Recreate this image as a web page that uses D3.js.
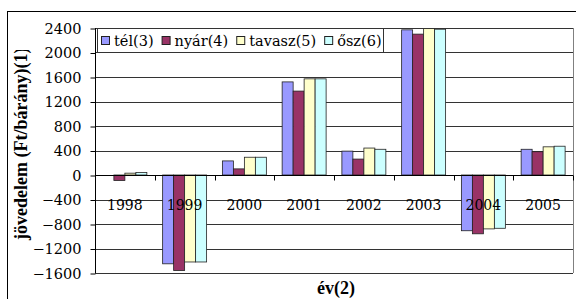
<!DOCTYPE html>
<html>
<head>
<meta charset="utf-8">
<script src="https://cdn.jsdelivr.net/npm/d3@7"></script>
<style>
  body { margin: 0; background: #fff; }
</style>
</head>
<body>
<svg id="chart" width="576" height="299"></svg>
<script>
// data
const years = ['1998', '1999', '2000', '2001', '2002', '2003', '2004', '2005'];
const seriesNames = ['tél(3)', 'nyár(4)', 'tavasz(5)', 'ősz(6)'];
const tel    = [0, -1450, 230, 1520, 390, 2370, -910, 420];
const nyar   = [-90, -1560, 100, 1370, 260, 2300, -960, 380];
const tavasz = [30, -1420, 290, 1570, 440, 2390, -880, 460];
const osz    = [40, -1420, 290, 1570, 420, 2380, -870, 470];
const yTicks = [-1600, -1200, -800, -400, 0, 400, 800, 1200, 1600, 2000, 2400];
const colors = ['#9999FF', '#993366', '#FFFFCC', '#CCFFFF'];

const allSeries = [tel, nyar, tavasz, osz];
const serif = '"DejaVu Serif", "Liberation Serif", serif';
const serifBold = '"Liberation Serif", "Times New Roman", serif';
const fs = 14.5;

const svg = d3.select('#chart');
const defs = svg.append('defs');

// outer chart border (only top and left show inside the window)
svg.append('rect')
  .attr('x', 7.5).attr('y', 11.5)
  .attr('width', 600).attr('height', 320)
  .attr('fill', 'none').attr('stroke', '#000');

const plotL = 95, plotR = 573, plotT = 28, plotB = 273;

const x = d3.scaleBand().domain(years).range([plotL, plotR]).padding(0);
const inner = d3.scaleBand().domain(seriesNames)
  .range([x.step() * 0.132, x.step() * 0.868]).padding(0);
const y = d3.scaleLinear().domain([-1600, 2400]).range([plotB, plotT]);

// gridlines
svg.append('g')
  .selectAll('line')
  .data(yTicks)
  .join('line')
  .attr('x1', plotL).attr('x2', plotR)
  .attr('y1', d => Math.round(y(d)) + 0.5)
  .attr('y2', d => Math.round(y(d)) + 0.5)
  .attr('stroke', '#333');

// plot area right edge
svg.append('line')
  .attr('x1', plotR + 0.5).attr('x2', plotR + 0.5)
  .attr('y1', plotT).attr('y2', plotB)
  .attr('stroke', '#808080');

// y axis
const yAxis = svg.append('g')
  .attr('transform', 'translate(' + (plotL + 0.5) + ',0.5)')
  .call(d3.axisLeft(y).tickValues(yTicks).tickFormat(d3.format('d')).tickSize(5).tickPadding(9));
yAxis.attr('font-family', serif).attr('font-size', fs);
yAxis.selectAll('text').attr('fill', '#000');
yAxis.selectAll('line, path').attr('stroke', '#000');
yAxis.select('.domain').attr('d', 'M0,' + (plotT - 0.5) + 'V' + (plotB - 0.5));

// bars
const groups = svg.append('g')
  .selectAll('g')
  .data(years)
  .join('g')
  .attr('transform', d => 'translate(' + x(d) + ',0)');

groups.selectAll('rect')
  .data((d, i) => allSeries.map((s, k) => ({ name: seriesNames[k], v: s[i], k: k })))
  .join('rect')
  .attr('x', d => inner(d.name))
  .attr('width', inner.bandwidth())
  .attr('y', d => y(Math.max(0, d.v)))
  .attr('height', d => Math.abs(y(d.v) - y(0)))
  .attr('fill', d => colors[d.k])
  .attr('stroke', '#222')
  .attr('stroke-width', 0.8);

// x axis on zero line, ticks between categories
const zeroY = Math.round(y(0)) + 0.5;
svg.append('line')
  .attr('x1', plotL).attr('x2', plotR)
  .attr('y1', zeroY).attr('y2', zeroY)
  .attr('stroke', '#000');
svg.append('g')
  .selectAll('line')
  .data(years)
  .join('line')
  .attr('x1', d => Math.round(x(d) + x.step()) + 0.5)
  .attr('x2', d => Math.round(x(d) + x.step()) + 0.5)
  .attr('y1', zeroY).attr('y2', zeroY + 5)
  .attr('stroke', '#000');

// category labels
svg.append('g')
  .attr('font-family', serif)
  .attr('font-size', 14)
  .selectAll('text')
  .data(years)
  .join('text')
  .attr('x', d => x(d) + x.bandwidth() / 2)
  .attr('y', 210)
  .attr('text-anchor', 'middle')
  .text(d => d);

// axis titles
svg.append('text')
  .attr('x', 336)
  .attr('y', 294)
  .attr('text-anchor', 'middle')
  .attr('font-family', serifBold)
  .attr('font-size', 18)
  .attr('font-weight', 'bold')
  .text('év(2)');

// y title is cut off at the top in the original
defs.append('clipPath').attr('id', 'ytitle-clip')
  .append('rect').attr('x', 0).attr('y', 50).attr('width', 60).attr('height', 250);
svg.append('g')
  .attr('clip-path', 'url(#ytitle-clip)')
  .append('text')
  .attr('transform', 'translate(27,240) rotate(-90)')
  .attr('text-anchor', 'start')
  .attr('font-family', serifBold)
  .attr('font-size', 18)
  .attr('font-weight', 'bold')
  .text('jövedelem (Ft/bárány)(1)');

// legend
const legend = svg.append('g')
  .attr('font-family', serif)
  .attr('font-size', fs);
legend.append('rect')
  .attr('x', 97.5).attr('y', 28.5)
  .attr('width', 286).attr('height', 24)
  .attr('fill', '#fff').attr('stroke', '#333');
let lx = 101;
seriesNames.forEach((name, k) => {
  legend.append('rect')
    .attr('x', lx + 0.5).attr('y', 36.5)
    .attr('width', 8).attr('height', 8)
    .attr('fill', colors[k]).attr('stroke', '#222');
  const t = legend.append('text')
    .attr('x', lx + 13).attr('y', 46)
    .text(name);
  lx += 13 + t.node().getComputedTextLength() + 8;
});
</script>
</body>
</html>
